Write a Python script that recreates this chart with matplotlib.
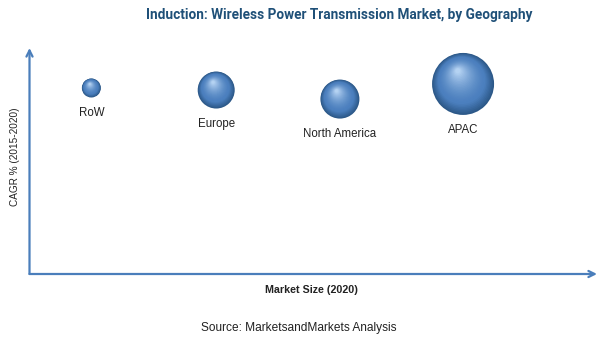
import numpy as np
import matplotlib
matplotlib.use('Agg')
import matplotlib.pyplot as plt
from matplotlib import transforms
from matplotlib.colors import to_rgb

# chart values (axis range 0-100, no ticks shown)
regions = ['RoW', 'Europe', 'North America', 'APAC']
market_size = [10.9, 32.9, 54.7, 76.4]
cagr = [82.3, 81.4, 77.4, 84.1]
bubble_diam = [19, 37, 39, 62]  # relative bubble size (px diameter)

title = 'Induction: Wireless Power Transmission Market, by Geography'
x_label = 'Market Size (2020)'
y_label = 'CAGR % (2015-2020)'
source = 'Source: MarketsandMarkets Analysis'

AXIS_COLOR = '#4a7ebb'
TITLE_COLOR = '#1f5078'
DARK = '#2c5888'
MID = '#4b7fbe'
LIGHT = '#b4d2f2'


def mix(c1, c2, t):
    a, b = np.array(to_rgb(c1)), np.array(to_rgb(c2))
    return tuple(a + (b - a) * t)


def draw_sphere(ax, fig, x, y, diam_px, n=28):
    """Fake a shaded 3D ball with stacked circles shifted up and a bit left."""
    d_pt = diam_px * 0.72
    for k in range(n):
        t = k / (n - 1)
        size = d_pt * (1 - 0.92 * t)
        shift = d_pt * 0.5 * 0.42 * t
        if t < 0.25:
            col = mix(DARK, MID, t / 0.25)
        else:
            col = mix(MID, LIGHT, ((t - 0.25) / 0.75) ** 1.6)
        tr = transforms.offset_copy(ax.transData, fig=fig, x=-shift * 0.4, y=shift, units='points')
        ax.scatter([x], [y], s=size ** 2, color=col, edgecolors='none',
                   transform=tr, zorder=3 + k * 0.01)


def main():
    plt.rcParams['font.family'] = ['Liberation Sans', 'DejaVu Sans']
    fig = plt.figure(figsize=(6, 3.48), dpi=100)
    W, H = 600, 348
    left, right, top, bottom = 29.5, 597, 48, 274
    ax = fig.add_axes([left / W, 1 - bottom / H, (right - left) / W, (bottom - top) / H])
    ax.set_xlim(0, 100)
    ax.set_ylim(0, 100)
    ax.axis('off')

    # axis arrows
    arrow = dict(arrowstyle='->', color=AXIS_COLOR, lw=1.6, mutation_scale=11,
                 shrinkA=0, shrinkB=0)
    ax.annotate('', xy=(1, 0), xytext=(0, 0), xycoords='axes fraction',
                arrowprops=arrow, annotation_clip=False)
    ax.annotate('', xy=(0, 1), xytext=(0, 0), xycoords='axes fraction',
                arrowprops=arrow, annotation_clip=False)

    for name, xv, yv, d in zip(regions, market_size, cagr, bubble_diam):
        draw_sphere(ax, fig, xv, yv, d)
        ax.annotate(name, xy=(xv, yv), xytext=(0, -(d / 2 + 15) * 0.72),
                    textcoords='offset points', ha='center', va='center',
                    fontsize=8.3, color='#222222', zorder=5)

    fig.text(339.5 / W, 1 - 15 / H, title, ha='center', va='center',
             fontsize=9.8, fontweight='bold', color=TITLE_COLOR,
             family=['Roboto', 'DejaVu Sans'])
    fig.text(311 / W, 1 - 290 / H, x_label, ha='center', va='center',
             fontsize=7.7, fontweight='bold', color='#222222')
    fig.text(15 / W, 1 - 157 / H, y_label, ha='center', va='center',
             rotation=90, fontsize=7.2, color='#222222')
    fig.text(299 / W, 1 - 328 / H, source, ha='center', va='center',
             fontsize=8.6, color='#222222')

    fig.savefig('out.png', dpi=100)
    plt.close(fig)


if __name__ == "__main__":
    main()
